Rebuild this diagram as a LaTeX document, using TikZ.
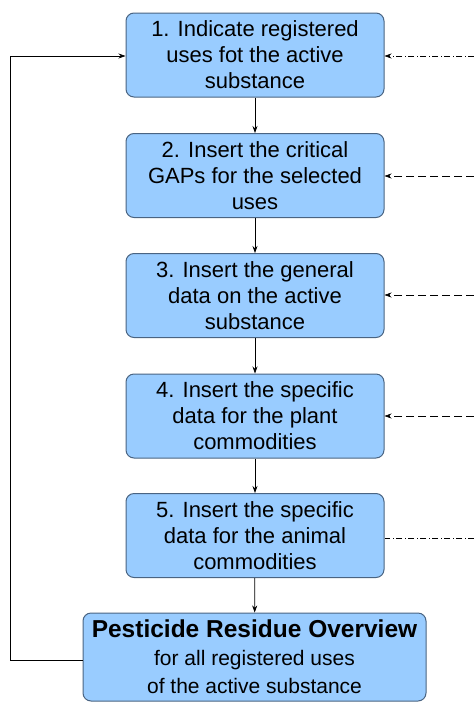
\documentclass[tikz,border=0pt]{standalone}
\usepackage{fontspec}
\setmainfont{Liberation Sans}
\usetikzlibrary{arrows.meta}
\definecolor{boxfill}{HTML}{99CCFF}
\definecolor{boxdraw}{HTML}{4A6482}
\begin{document}
\begin{tikzpicture}[x=1pt,y=-1pt,
  stepbox/.style={draw=boxdraw,fill=boxfill,line width=1pt,rounded corners=8pt,
    minimum width=258pt,minimum height=84pt,align=center,inner sep=0pt,
    font=\fontsize{22}{26}\selectfont},
  arr/.style={-{Stealth[length=7pt,width=5pt]},line width=0.7pt},
  dd/.style={line width=0.6pt,dash pattern=on 6pt off 2.5pt on 1pt off 2.5pt},
  ds/.style={line width=0.6pt,dash pattern=on 8pt off 4pt}]
\useasboundingbox (0,0) rectangle (474,702);
\node[stepbox] (s1) at (255,55) {1. Indicate registered\\uses fot the active\\substance};
\node[stepbox] (s2) at (255,175.5) {2. Insert the critical\\GAPs for the selected\\uses};
\node[stepbox] (s3) at (255,295.5) {3. Insert the general\\data on the active\\substance};
\node[stepbox] (s4) at (255,416) {4. Insert the specific\\data for the plant\\commodities};
\node[stepbox] (s5) at (255,535.5) {5. Insert the specific\\data for the animal\\commodities};
\node[stepbox,minimum width=343pt,minimum height=88pt,font=\fontsize{21}{28}\selectfont] (po) at (254.5,657)
  {{\fontsize{24.5}{28}\selectfont\bfseries Pesticide Residue Overview}\\for all registered uses\\of the active substance};
\draw[arr] (s1) -- (s2);
\draw[arr] (s2) -- (s3);
\draw[arr] (s3) -- (s4);
\draw[arr] (s4) -- (s5);
\draw[arr] (s5) -- (po);
\coordinate (lb) at (10,660);
\coordinate (lt) at (10,56);
\draw[arr] (po.west |- lb) -- (lb) -- (lt) -- (s1.west |- lt);
\coordinate (r1) at (474,56);
\coordinate (r2) at (474,176);
\coordinate (r3) at (474,295);
\coordinate (r4) at (474,416);
\coordinate (r5) at (474,538);
\draw[arr,dd] (r1) -- (s1.east |- r1);
\draw[arr,ds] (r2) -- (s2.east |- r2);
\draw[arr,ds] (r3) -- (s3.east |- r3);
\draw[arr,ds] (r4) -- (s4.east |- r4);
\draw[dd] (r5) -- (s5.east |- r5);
\end{tikzpicture}
\end{document}
